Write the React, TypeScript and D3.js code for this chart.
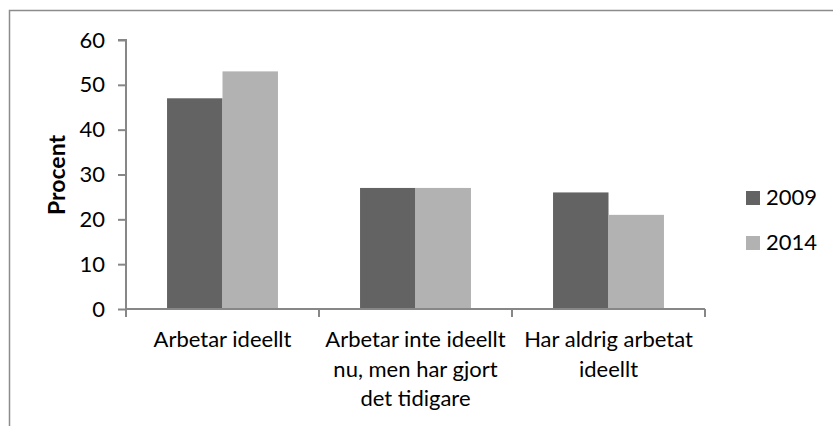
import React, { useEffect, useRef } from 'react';
import * as d3 from 'd3';

const categories = [
    ['Arbetar ideellt'],
    ['Arbetar inte ideellt', 'nu, men har gjort', 'det tidigare'],
    ['Har aldrig arbetat', 'ideellt'],
];
const seriesNames = ['2009', '2014'];
const values2009 = [47, 27, 26];
const values2014 = [53, 27, 21];
const yTicks = [0, 10, 20, 30, 40, 50, 60];
const colors = ['#636363', '#b2b2b2'];

const width = 833, height = 426;
const font = 'Lato, "Open Sans", sans-serif';
const axisColor = '#878787';

const App = () => {
    const ref = useRef(null);

    useEffect(() => {
        const svg = d3.select(ref.current);
        svg.selectAll('*').remove();

        const x0 = d3.scaleBand()
            .domain(categories.map((c, i) => String(i)))
            .range([126, 705])
            .padding(0);

        const x1 = d3.scaleBand()
            .domain(seriesNames)
            .range([0, x0.bandwidth()])
            .paddingInner(0)
            .paddingOuter(0.74);

        const y = d3.scaleLinear()
            .domain([0, 60])
            .range([309, 40]);

        // chart border
        svg.append('rect')
            .attr('x', 9.5).attr('y', 10.5)
            .attr('width', 840).attr('height', 440)
            .attr('fill', 'none')
            .attr('stroke', '#8c8c8c')
            .attr('stroke-width', 1.5);

        // bars
        const data = [values2009, values2014];
        const groups = svg.append('g').selectAll('g')
            .data(seriesNames)
            .enter().append('g')
            .attr('fill', (d, i) => colors[i]);

        groups.selectAll('rect')
            .data((s, si) => data[si].map((v, ci) => ({ s, v, ci })))
            .enter().append('rect')
            .attr('x', d => x0(String(d.ci)) + x1(d.s))
            .attr('y', d => y(d.v))
            .attr('width', x1.bandwidth())
            .attr('height', d => y(0) - y(d.v));

        // y axis
        const yAxis = svg.append('g')
            .attr('transform', 'translate(126,0)')
            .call(d3.axisLeft(y).tickValues(yTicks).tickSize(8).tickPadding(13));
        yAxis.select('.domain').attr('stroke', axisColor).attr('stroke-width', 2)
            .attr('d', `M-8,${y(60)}H0V${y(0) + 8}`);
        yAxis.selectAll('.tick line').attr('stroke', axisColor).attr('stroke-width', 2);
        yAxis.selectAll('.tick text')
            .attr('font-family', font).attr('font-size', 22).attr('fill', '#000');

        // x axis
        const bounds = [126, ...categories.map((c, i) => x0(String(i)) + x0.bandwidth())];
        const xAxis = svg.append('g');
        xAxis.append('line')
            .attr('x1', 126).attr('x2', 705)
            .attr('y1', y(0)).attr('y2', y(0))
            .attr('stroke', axisColor).attr('stroke-width', 2);
        xAxis.selectAll('line.tick')
            .data(bounds)
            .enter().append('line')
            .attr('class', 'tick')
            .attr('x1', d => d).attr('x2', d => d)
            .attr('y1', y(0)).attr('y2', y(0) + 8)
            .attr('stroke', axisColor).attr('stroke-width', 2);

        const labels = xAxis.selectAll('text.cat')
            .data(categories)
            .enter().append('text')
            .attr('class', 'cat')
            .attr('font-family', font).attr('font-size', 22)
            .attr('text-anchor', 'middle');
        labels.selectAll('tspan')
            .data((lines, i) => lines.map(l => ({ l, i })))
            .enter().append('tspan')
            .attr('x', d => x0(String(d.i)) + x0.bandwidth() / 2)
            .attr('y', (d, j) => 347 + j * 29.5)
            .text(d => d.l);

        // y label
        svg.append('text')
            .attr('transform', 'translate(65,175) rotate(-90)')
            .attr('text-anchor', 'middle')
            .attr('font-family', font).attr('font-size', 23).attr('font-weight', 'bold')
            .text('Procent');

        // legend
        const legend = svg.append('g').selectAll('g')
            .data(seriesNames)
            .enter().append('g')
            .attr('transform', (d, i) => `translate(746,${191 + i * 45})`);
        legend.append('rect')
            .attr('width', 14).attr('height', 14)
            .attr('fill', (d, i) => colors[i]);
        legend.append('text')
            .attr('x', 20).attr('y', 14)
            .attr('font-family', font).attr('font-size', 22)
            .text(d => d);
    }, []);

    return (
        <svg ref={ref} width={width} height={height}
            style={{ position: 'absolute', left: 0, top: 0, background: '#fff' }} />
    );
};

export default App;
